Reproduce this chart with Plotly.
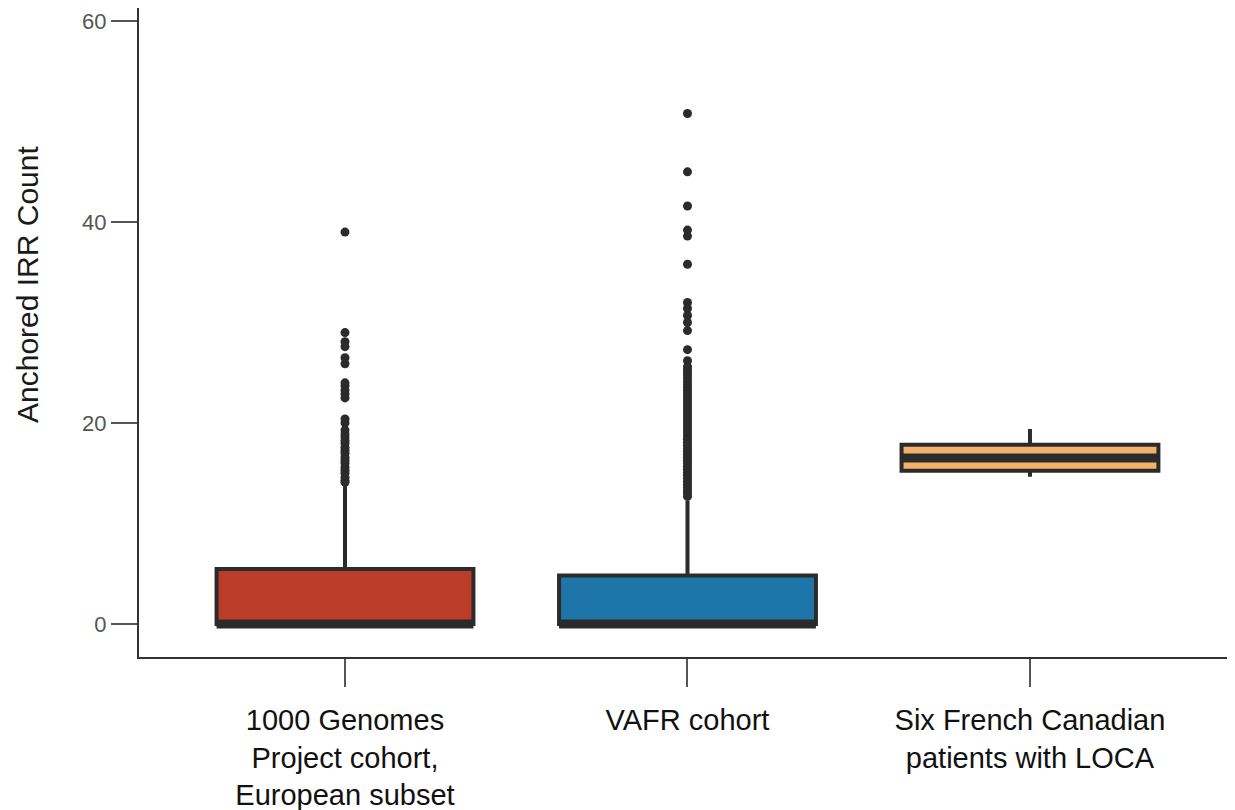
import plotly.graph_objects as go

categories = ["1000 Genomes<br>Project cohort,<br>European subset",
              "VAFR cohort",
              "Six French Canadian<br>patients with LOCA"]
q1 = [0.0, 0.0, 15.25]
median = [0.0, 0.0, 16.52]
q3 = [5.47, 4.83, 17.84]
lowerfence = [0.0, 0.0, 14.66]
upperfence = [13.8, 12.3, 19.4]
fill_colors = ["#bb3c28", "#1e76a8", "#f4b26c"]

outliers_g1000 = [39.0, 29.0, 28.1, 27.6, 26.5, 25.9, 24.0, 23.7, 23.3, 22.9, 22.5,
                  20.4, 20.0, 19.3, 18.9, 18.6, 18.3, 18.0, 17.6, 17.3, 17.0, 16.6,
                  16.3, 16.0, 15.6, 15.3, 15.0, 14.6, 14.3, 14.1]
outliers_vafr = [50.8, 45.0, 41.6, 39.2, 38.6, 35.8, 32.0, 31.4, 30.7, 30.0, 29.2,
                 27.3, 26.2, 25.6, 25.3, 25.0, 24.7, 24.4, 24.1, 23.8, 23.5, 23.2,
                 22.9, 22.6, 22.3, 22.0, 21.7, 21.4, 21.1, 20.8, 20.5, 20.2, 19.9,
                 19.6, 19.3, 19.0, 18.7, 18.4, 18.1, 17.8, 17.5, 17.2, 16.9, 16.6,
                 16.3, 16.0, 15.7, 15.4, 15.1, 14.8, 14.5, 14.2, 13.9, 13.6, 13.3,
                 13.0, 12.7]
outliers_loca = []
outliers = [outliers_g1000, outliers_vafr, outliers_loca]

y_title = "Anchored IRR Count"
edge = "#2b2b2b"
box_width = 0.75

fig = go.Figure()
for i, cat in enumerate(categories):
    fig.add_trace(go.Box(
        x=[cat], q1=[q1[i]], median=[median[i]], q3=[q3[i]],
        lowerfence=[lowerfence[i]], upperfence=[upperfence[i]],
        fillcolor=fill_colors[i], line=dict(color=edge, width=4),
        whiskerwidth=0,
        width=box_width, boxpoints=False, showlegend=False, hoverinfo="skip"))
    # thick median band
    fig.add_trace(go.Box(
        x=[cat], q1=[median[i]], median=[median[i]], q3=[median[i]],
        lowerfence=[median[i]], upperfence=[median[i]],
        fillcolor="rgba(0,0,0,0)", line=dict(color=edge, width=9),
        whiskerwidth=0,
        width=box_width, boxpoints=False, showlegend=False, hoverinfo="skip"))
    if outliers[i]:
        fig.add_trace(go.Scatter(
            x=[cat] * len(outliers[i]), y=outliers[i], mode="markers",
            marker=dict(color=edge, size=9), showlegend=False, hoverinfo="skip"))

fig.update_layout(
    width=1235, height=810,
    margin=dict(l=131, r=0, t=0, b=161),
    plot_bgcolor="white", paper_bgcolor="white",
    boxmode="overlay",
    font=dict(family="Liberation Sans, Arial, sans-serif"),
    annotations=[dict(
        text=y_title, xref="paper", yref="paper",
        x=-112 / 1104, y=(649 - 277) / 649, xanchor="center", yanchor="middle",
        textangle=-90, showarrow=False,
        font=dict(size=30, color="#1a1a1a"))],
)
fig.update_xaxes(
    categoryorder="array", categoryarray=categories,
    range=[-0.6015, 2.622],
    showline=True, linecolor="#333333", linewidth=2,
    ticks="outside", ticklen=28, tickwidth=1.5, tickcolor="#555555",
    tickfont=dict(size=29, color="#111111"),
    ticklabelstandoff=8,
    showgrid=False, zeroline=False,
)
fig.update_yaxes(
    range=[-3.28, 61.3],
    tickvals=[0, 20, 40, 60],
    showline=True, linecolor="#333333", linewidth=2,
    ticks="outside", ticklen=26, tickwidth=1.5, tickcolor="#555555",
    tickfont=dict(size=22, color="#555555"),
    showgrid=False, zeroline=False,
)

fig.write_html("out.html")
